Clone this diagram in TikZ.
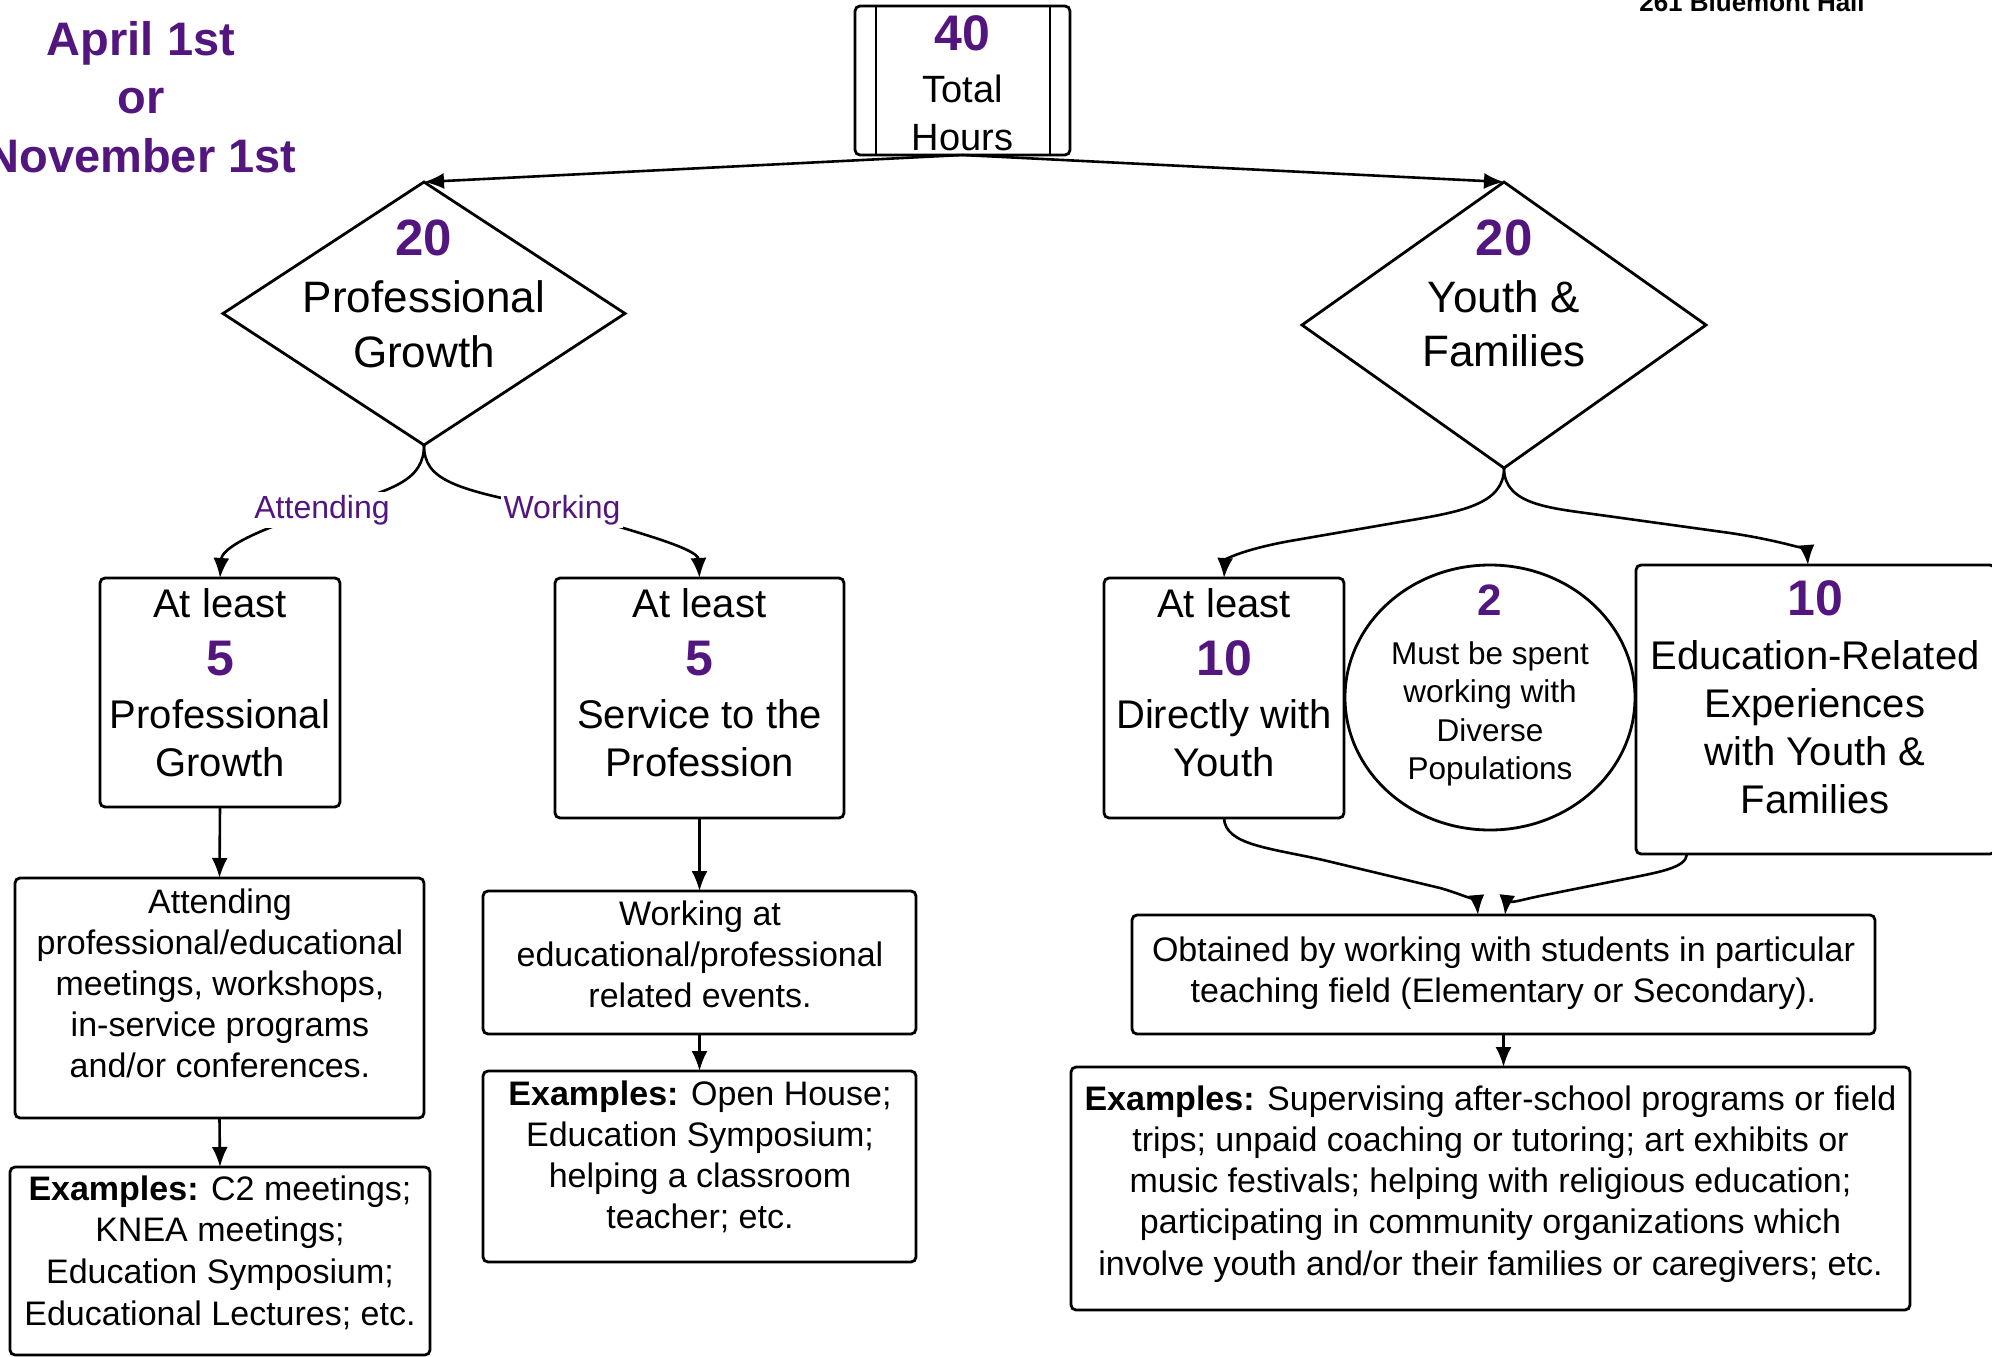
\documentclass[tikz,border=0pt]{standalone}
\usepackage{fontspec}
\setmainfont{Liberation Sans}
\usetikzlibrary{shapes.geometric,arrows.meta,calc}
\definecolor{pur}{RGB}{83,22,126}
\newcommand\txtlines[6]{\foreach \ll [count=\ii] in {#6} {\node[txt,font=#5] (#1-\ii) at ({#2},{#3+(\ii-1)*#4}) {\ll};}}
\newcommand\fnum{\fontsize{50}{60}\selectfont\bfseries\color{pur}}
\newcommand\fbx{\fontsize{40}{48}\selectfont}
\newcommand\fsm{\fontsize{34}{41}\selectfont}
\begin{document}
\begin{tikzpicture}[x=1pt,y=-1pt,
  box/.style={draw,line width=2.8pt,rounded corners=5pt,inner sep=0pt,outer sep=0pt},
  dia/.style={draw,shape=diamond,line width=2.8pt,inner sep=0pt,outer sep=0pt},
  txt/.style={anchor=base,inner sep=0pt,outer sep=0pt},
  con/.style={line width=2.6pt,-{Latex[length=20pt,width=16pt]}},
  lbl/.style={fill=white,inner sep=3pt,text=pur,font=\fontsize{32}{38}\selectfont,anchor=base}]
\useasboundingbox (0,0) rectangle (1992,1357);
\clip (0,0) rectangle (1992,1357);

% shapes
\node[box,minimum width=215pt,minimum height=149pt] (top) at (962.5,80.5) {};
\draw[line width=2.8pt] ($(top.north west)+(21,0)$) -- ($(top.south west)+(21,0)$);
\draw[line width=2.8pt] ($(top.north east)+(-20,0)$) -- ($(top.south east)+(-20,0)$);
\node[dia,minimum width=402pt,minimum height=263pt] (ld) at (424,313.5) {};
\node[dia,minimum width=404pt,minimum height=286pt] (rd) at (1504,325) {};
\node[box,minimum width=240pt,minimum height=229pt] (lb) at (220,692.5) {};
\node[box,minimum width=289pt,minimum height=240pt] (mb) at (699.5,698) {};
\node[box,minimum width=240pt,minimum height=240pt] (y10) at (1224,698) {};
\node[draw,ellipse,line width=2.8pt,inner sep=0pt,outer sep=0pt,minimum width=290pt,minimum height=265pt] (circ) at (1490,697.5) {};
\node[box,minimum width=359pt,minimum height=289pt] (edu) at (1815.5,709.5) {};
\node[box,minimum width=409pt,minimum height=240pt] (att) at (219.5,998) {};
\node[box,minimum width=420pt,minimum height=188pt] (exl) at (220,1261) {};
\node[box,minimum width=433pt,minimum height=143pt] (wk) at (699.5,962.5) {};
\node[box,minimum width=433pt,minimum height=191pt] (exm) at (699.5,1166.5) {};
\node[box,minimum width=743pt,minimum height=119pt] (obt) at (1503.5,974.5) {};
\node[box,minimum width=839pt,minimum height=243pt] (exr) at (1490.5,1188.5) {};

% texts
\txtlines{date}{141}{55}{58.5}{\fontsize{47}{56}\selectfont\bfseries\color{pur}}{{April 1st},{or},{November 1st}}
\node[txt,font=\fontsize{26}{31}\selectfont\bfseries] (addr) at (1752,12) {261 Bluemont Hall};
\node[txt,font=\fnum] (topn) at (962.5,50) {40};
\txtlines{topt}{962.5}{102}{48}{\fontsize{38}{46}\selectfont}{{Total},{Hours}}
\node[txt,font=\fontsize{51}{61}\selectfont\bfseries\color{pur}] (ldn) at (424,255) {20};
\txtlines{ldt}{424}{312}{55}{\fontsize{44}{53}\selectfont}{{Professional},{Growth}}
\node[txt,font=\fontsize{51}{61}\selectfont\bfseries\color{pur}] (rdn) at (1504,255) {20};
\txtlines{rdt}{1504}{312}{54}{\fontsize{44}{53}\selectfont}{{Youth \&},{Families}}
\node[txt,font=\fbx] (lba) at (220,617) {At least};
\node[txt,font=\fnum] (lbn) at (220,675) {5};
\txtlines{lbt}{220}{728}{48}{\fbx}{{Professional},{Growth}}
\node[txt,font=\fbx] (mba) at (699.5,617) {At least};
\node[txt,font=\fnum] (mbn) at (699.5,675) {5};
\txtlines{mbt}{699.5}{728}{48}{\fbx}{{Service to the},{Profession}}
\node[txt,font=\fbx] (ya) at (1224,617) {At least};
\node[txt,font=\fnum] (yn) at (1224,675) {10};
\txtlines{yt}{1224}{728}{48}{\fbx}{{Directly with},{Youth}}
\node[txt,font=\fontsize{44}{53}\selectfont\bfseries\color{pur}] (cn) at (1490,615) {2};
\txtlines{ct}{1490}{664}{38.5}{\fontsize{31.5}{38}\selectfont}{{Must be spent},{working with},{Diverse},{Populations}}
\node[txt,font=\fnum] (edn) at (1815,615) {10};
\txtlines{edt}{1815}{669}{48}{\fbx}{{Education-Related},{Experiences},{with Youth \&},{Families}}
\txtlines{attt}{220}{913}{41.2}{\fsm}{{Attending},{professional/educational},{meetings, workshops,},{in-service programs},{and/or conferences.}}
\txtlines{exlt}{220}{1200}{41.7}{\fsm}{{\textbf{Examples:} C2 meetings;},{KNEA meetings;},{Education Symposium;},{Educational Lectures; etc.}}
\txtlines{wkt}{700}{925}{41}{\fsm}{{Working at},{educational/professional},{related events.}}
\txtlines{exmt}{700}{1105}{41}{\fsm}{{\textbf{Examples:} Open House;},{Education Symposium;},{helping a classroom},{teacher; etc.}}
\txtlines{obtt}{1503.5}{961}{41.5}{\fsm}{{Obtained by working with students in particular},{teaching field (Elementary or Secondary).}}
\txtlines{exrt}{1490.5}{1110}{41.3}{\fsm}{{\textbf{Examples:} Supervising after-school programs or field},{trips; unpaid coaching or tutoring; art exhibits or},{music festivals; helping with religious education;},{participating in community organizations which},{involve youth and/or their families or caregivers; etc.}}

% connectors
\draw[con] (top.south) -- (ld.north);
\draw[con] (top.south) -- (rd.north);
\draw[con] (ld.south) .. controls (424,480) and (395,490) .. (322,510) .. controls (255,530) and (222,548) .. (lb.north);
\node[lbl] (attl) at (322,518) {Attending};
\draw[con] (ld.south) .. controls (424,480) and (453,490) .. (562,510) .. controls (629,530) and (698,548) .. (mb.north);
\node[lbl] (wkl) at (562,518) {Working};
\draw[con] (lb.south) -- (att.north);
\draw[con] (att.south) -- (exl.north);
\draw[con] (mb.south) -- (wk.north);
\draw[con] (wk.south) -- (exm.north);
\coordinate (eduin) at ($(edu.north west)+(172,0)$);
\coordinate (eduout) at ($(edu.south west)+(51,0)$);
\coordinate (obtA) at ($(obt.north)+(-25.5,0)$);
\coordinate (obtB) at ($(obt.north)+(1.5,0)$);
\draw[con] (rd.south) .. controls (1504,505) and (1460,512) .. (1400,522) -- (1290,541) .. controls (1240,550) and (1225,560) .. (y10.north);
\draw[con] (rd.south) .. controls (1504,505) and (1550,508) .. (1600,515) -- (1730,533) .. controls (1790,542) and (1807,552) .. (eduin);
\draw[con] (y10.south) .. controls (1225,845) and (1270,848) .. (1323,860) -- (1440,888) .. controls (1465,895) and (1477,903) .. (obtA);
\draw[con] (eduout) .. controls (1686,868) and (1660,872) .. (1620,880) -- (1540,896) .. controls (1515,901) and (1506,906) .. (obtB);
\draw[con] (obt.south) -- (obt.south |- exr.north);
\end{tikzpicture}
\end{document}
